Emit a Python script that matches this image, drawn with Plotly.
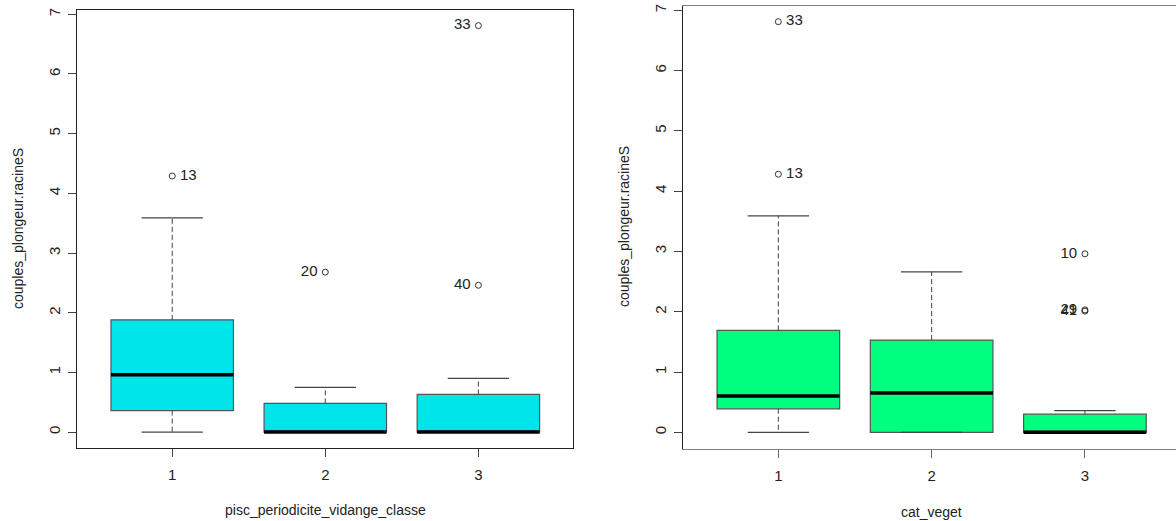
import plotly.graph_objects as go
from plotly.subplots import make_subplots

# data: left panel (pisc_periodicite_vidange_classe)
cats = [1, 2, 3]
vid_q1 = [0.36, 0.0, 0.0]
vid_med = [0.96, 0.0, 0.0]
vid_q3 = [1.88, 0.48, 0.63]
vid_lo = [0.0, 0.0, 0.0]
vid_hi = [3.59, 0.75, 0.90]
vid_out_x = [1, 2, 3, 3]
vid_out_y = [4.29, 2.68, 2.46, 6.81]
vid_out_id = ["13", "20", "40", "33"]
vid_out_pos = ["middle right", "middle left", "middle left", "middle left"]

# data: right panel (cat_veget)
veg_q1 = [0.39, 0.0, 0.0]
veg_med = [0.60, 0.65, 0.0]
veg_q3 = [1.69, 1.53, 0.30]
veg_lo = [0.0, 0.0, 0.0]
veg_hi = [3.59, 2.66, 0.36]
veg_out_x = [1, 1, 3, 3, 3]
veg_out_y = [6.81, 4.28, 2.96, 2.03, 2.01]
veg_out_id = ["33", "13", "10", "29", "41"]
veg_out_pos = ["middle right", "middle right", "middle left", "middle left", "middle left"]

y_title = "couples_plongeur.racineS"
W, H = 1176, 521
FONT = "Liberation Sans, Arial, sans-serif"
TXT = "#222222"
HALF = 0.4


def add_panel(fig, col, q1, med, q3, lo, hi, ox, oy, oid, opos, fill):
    fig.add_trace(go.Box(
        x=cats, q1=q1, median=med, q3=q3, lowerfence=q1, upperfence=q3,
        width=0.8, fillcolor=fill, line=dict(color="#555555", width=1.2),
        hoverinfo="skip", showlegend=False), row=1, col=col)
    # dashed whiskers
    wx, wy = [], []
    for c, a, b, l, h in zip(cats, q1, q3, lo, hi):
        wx += [c, c, None, c, c, None]
        wy += [b, h, None, a, l, None]
    fig.add_trace(go.Scatter(x=wx, y=wy, mode="lines", showlegend=False,
                             line=dict(color="#444444", width=1, dash="5px,3px")),
                  row=1, col=col)
    # staples
    sx, sy = [], []
    for c, l, h in zip(cats, lo, hi):
        sx += [c - HALF / 2, c + HALF / 2, None, c - HALF / 2, c + HALF / 2, None]
        sy += [h, h, None, l, l, None]
    fig.add_trace(go.Scatter(x=sx, y=sy, mode="lines", showlegend=False,
                             line=dict(color="#444444", width=1.2)), row=1, col=col)
    # thick median
    mx, my = [], []
    for c, m in zip(cats, med):
        mx += [c - HALF, c + HALF, None]
        my += [m, m, None]
    fig.add_trace(go.Scatter(x=mx, y=my, mode="lines", showlegend=False,
                             line=dict(color="black", width=3.5)), row=1, col=col)
    # outliers with ids (a little gap between point and label, as in R)
    labels = [("\u2009" + t) if p.endswith("right") else (t + "\u2009")
              for t, p in zip(oid, opos)]
    fig.add_trace(go.Scatter(x=ox, y=oy, mode="markers+text", text=labels,
                             textposition=opos, showlegend=False,
                             textfont=dict(size=15, color=TXT, family=FONT),
                             marker=dict(symbol="circle-open", size=6,
                                         color="#333333", line=dict(width=1))),
                  row=1, col=col)


fig = make_subplots(rows=1, cols=2)

add_panel(fig, 1, vid_q1, vid_med, vid_q3, vid_lo, vid_hi,
          vid_out_x, vid_out_y, vid_out_id, vid_out_pos, "#00E5EA")
add_panel(fig, 2, veg_q1, veg_med, veg_q3, veg_lo, veg_hi,
          veg_out_x, veg_out_y, veg_out_id, veg_out_pos, "#00FF7F")

axis_common = dict(showgrid=False, zeroline=False, ticks="outside", ticklen=8,
                   tickwidth=1, tickfont=dict(size=15, color=TXT, family=FONT),
                   automargin=False)

fig.update_layout(
    width=W, height=H, margin=dict(l=0, r=0, t=0, b=0),
    paper_bgcolor="white", plot_bgcolor="white", showlegend=False,
    xaxis=dict(domain=[77.3 / W, 573.3 / W], range=[0.38, 3.62],
               tickvals=cats, showline=True, mirror=True, linecolor="#222222",
               tickcolor="#444444", ticklabelstandoff=5, **axis_common),
    yaxis=dict(domain=[1 - 448.3 / H, 1 - 10 / H], range=[-0.272, 7.072],
               tickvals=list(range(8)), tickangle=-90, showline=True, mirror=True,
               linecolor="#222222", tickcolor="#444444", ticklabelstandoff=2,
               **axis_common),
    xaxis2=dict(domain=[683.3 / W, 1.0], range=[0.38, 3.594],
                tickvals=cats, showline=True, mirror=True, linecolor="#808080",
                tickcolor="#666666", ticklabelstandoff=5, **axis_common),
    yaxis2=dict(domain=[1 - 448.7 / H, 1 - 5.9 / H], range=[-0.272, 7.072],
                tickvals=list(range(8)), tickangle=-90, showline=True, mirror=False,
                linecolor="#222222", tickcolor="#444444", ticklabelstandoff=2,
                **axis_common),
)

titles = [
    dict(text="pisc_periodicite_vidange_classe", x=325 / W, y=1 - 510 / H, textangle=0),
    dict(text=y_title, x=18 / W, y=1 - 229 / H, textangle=-90),
    dict(text="cat_veget", x=931 / W, y=1 - 512 / H, textangle=0),
    dict(text=y_title, x=624 / W, y=1 - 227 / H, textangle=-90),
]
for t in titles:
    fig.add_annotation(xref="paper", yref="paper", showarrow=False,
                       xanchor="center", yanchor="middle",
                       font=dict(size=14, color=TXT, family=FONT), **t)

fig.write_html("out.html", config={"displayModeBar": False},
               post_script="document.body.style.margin='0';")
